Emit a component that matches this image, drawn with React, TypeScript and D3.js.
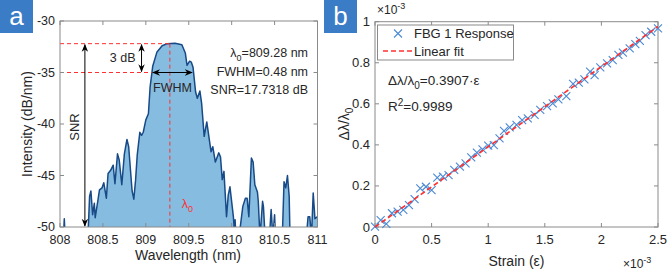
import React from 'react'
import * as d3 from 'd3'

// FBG 1 reflection spectrum: wavelength (nm) and intensity (dB/nm)
const wavelength = [
  808.0, 808.04, 808.05, 808.06, 808.1, 808.2, 808.3, 808.33, 808.345, 808.36, 808.38, 808.4,
  808.41, 808.44, 808.46, 808.49, 808.51, 808.54, 808.56, 808.59, 808.62, 808.64, 808.67, 808.69,
  808.72, 808.75, 808.78, 808.8, 808.84, 808.86, 808.88, 808.9, 808.93, 808.95, 808.97, 809.0,
  809.03, 809.05, 809.08, 809.13, 809.19, 809.25, 809.34, 809.42, 809.46, 809.48, 809.51, 809.53,
  809.55, 809.58, 809.6, 809.63, 809.65, 809.68, 809.71, 809.76, 809.78, 809.81, 809.85, 809.87,
  809.89, 809.91, 809.94, 809.96, 809.98, 810.02, 810.03, 810.04, 810.05, 810.08, 810.1, 810.13,
  810.16, 810.18, 810.2, 810.23, 810.25, 810.27, 810.3, 810.31, 810.33, 810.36, 810.37, 810.39,
  810.42, 810.44, 810.46, 810.48, 810.5, 810.51, 810.55, 810.59, 810.61, 810.63, 810.65, 810.67,
  810.68, 810.75, 810.85, 810.87, 810.89, 810.91, 810.93, 810.95, 810.97, 811.0,
]
const intensity = [
  -52, -51, -49.2, -51, -53, -54, -52, -50, -47.0, -46.5, -48.8, -47.7,
  -49.1, -47.5, -46.4, -46.2, -45.7, -47.2, -44.8, -44.5, -44.0, -45.8, -42.9, -43.5,
  -45.9, -42.9, -41.5, -42.2, -46.5, -47.3, -45.5, -43.0, -40.8, -41.1, -40.8, -39.6,
  -39.0, -36.4, -34.4, -33.0, -32.4, -32.2, -32.15, -32.3, -33.1, -34.3, -33.9, -34.0,
  -34.5, -36.9, -37.5, -36.8, -38.0, -41.2, -39.8, -42.7, -42.2, -43.7, -42.8, -43.2,
  -45.4, -44.6, -49.0, -46.9, -46.1, -49.0, -50.2, -49.3, -51, -52, -50, -48.0,
  -47.2, -47.2, -49.0, -43.3, -43.7, -45.9, -46.6, -47.5, -51, -47.5, -48.0, -51,
  -53, -51, -48.3, -51, -48.8, -51, -53, -51, -45.6, -46.2, -45.0, -47.0,
  -51, -54, -53, -51, -49.0, -49.0, -51, -46.7, -49.2, -49.0,
]

const spectrumXTicks = [808, 808.5, 809, 809.5, 810, 810.5, 811]
const spectrumYTicks = [-50, -45, -40, -35, -30]

const peakWavelength = 809.28
const fwhm = 0.48
const fwhmStart = 809.07
const snr = 17.7318
const peakLevel = -32.2
const halfLevel = -35
const snrMarkerWavelength = 808.29
const dbMarkerWavelength = 808.95

// strain response (both axes in units of 1e-3)
const strain = [
  0, 0.05, 0.1, 0.15, 0.2, 0.25, 0.3, 0.35, 0.4, 0.45, 0.5, 0.55, 0.6, 0.65, 0.7, 0.75, 0.8,
  0.85, 0.9, 0.95, 1.0, 1.05, 1.1, 1.14, 1.19, 1.25, 1.3, 1.35, 1.41, 1.46, 1.52, 1.57, 1.62,
  1.69, 1.75, 1.8, 1.85, 1.9, 1.94, 1.99, 2.05, 2.1, 2.15, 2.19, 2.25, 2.3, 2.34, 2.39, 2.44, 2.5,
]
const response = [
  0.002, 0.034, 0.015, 0.067, 0.075, 0.083, 0.107, 0.136, 0.188, 0.196, 0.18, 0.24, 0.245, 0.253,
  0.278, 0.294, 0.31, 0.339, 0.362, 0.378, 0.396, 0.399, 0.432, 0.468, 0.485, 0.497, 0.521, 0.529,
  0.546, 0.57, 0.589, 0.602, 0.622, 0.638, 0.697, 0.703, 0.719, 0.757, 0.74, 0.778, 0.797, 0.813,
  0.838, 0.849, 0.87, 0.891, 0.907, 0.935, 0.951, 0.968,
]

const strainTicks = [0, 0.5, 1, 1.5, 2, 2.5]
const responseTicks = [0, 0.2, 0.4, 0.6, 0.8, 1]

const fitSlope = 0.3907
const fitR2 = 0.9989

const font = 'Arial, "Liberation Sans", Helvetica, sans-serif'
const axisColor = '#8a8a8a'
const textColor = '#262626'
const red = '#ff3030'
const markerBlue = '#4a88d4'
const badgeBlue = '#3b7cc6'
const tickLen = 4

function Badge({ x, label }: { x: number; label: string }) {
  return (
    <g>
      <rect x={x} y={0} width={33} height={33} fill={badgeBlue} />
      <text x={x + 16.5} y={25} textAnchor="middle" fill="white" fontSize={26} fontFamily={font}>
        {label}
      </text>
    </g>
  )
}

function Frame({ x, y, xTicks, yTicks, fontSize }: any) {
  const [x0, x1] = x.range()
  const [y0, y1] = y.range()
  return (
    <g fontFamily={font} fill={textColor}>
      <rect x={x0} y={y1} width={x1 - x0} height={y0 - y1} fill="none" stroke={axisColor} />
      {xTicks.map((t: number) => (
        <g key={'x' + t}>
          <line x1={x(t)} x2={x(t)} y1={y0} y2={y0 - tickLen} stroke={axisColor} />
          <line x1={x(t)} x2={x(t)} y1={y1} y2={y1 + tickLen} stroke={axisColor} />
          <text x={x(t)} y={y0 + 17} textAnchor="middle" fontSize={fontSize}>
            {t}
          </text>
        </g>
      ))}
      {yTicks.map((t: number) => (
        <g key={'y' + t}>
          <line x1={x0} x2={x0 + tickLen} y1={y(t)} y2={y(t)} stroke={axisColor} />
          <line x1={x1} x2={x1 - tickLen} y1={y(t)} y2={y(t)} stroke={axisColor} />
          <text x={x0 - 5} y={y(t)} dy="0.35em" textAnchor="end" fontSize={fontSize}>
            {t}
          </text>
        </g>
      ))}
    </g>
  )
}

const cross = (cx: number, cy: number, m: number) =>
  `M${cx - m},${cy - m}L${cx + m},${cy + m}M${cx - m},${cy + m}L${cx + m},${cy - m}`

function SpectrumPanel() {
  const x = d3.scaleLinear().domain([808, 811]).range([60, 317.5])
  const y = d3.scaleLinear().domain([-50, -30]).range([227, 21])
  const pts = wavelength.map((w, i) => [w, intensity[i]] as [number, number])

  const area = d3
    .area<[number, number]>()
    .x((d) => x(d[0]))
    .y0(y(-50))
    .y1((d) => y(d[1]))
  const line = d3
    .line<[number, number]>()
    .x((d) => x(d[0]))
    .y((d) => y(d[1]))

  return (
    <g>
      <defs>
        <clipPath id="spectrum-clip">
          <rect x={60} y={21} width={257.5} height={206} />
        </clipPath>
      </defs>
      <g clipPath="url(#spectrum-clip)">
        <path d={area(pts) ?? ''} fill="#86bce0" />
        <path d={line(pts) ?? ''} fill="none" stroke="#174a86" strokeWidth={1.5} strokeLinejoin="round" />
      </g>

      {/* peak and -3 dB guides */}
      <g stroke={red} strokeWidth={1} strokeDasharray="4,3">
        <line x1={x(808)} x2={x(peakWavelength)} y1={y(peakLevel)} y2={y(peakLevel)} />
        <line x1={x(808)} x2={x(fwhmStart)} y1={y(halfLevel)} y2={y(halfLevel)} />
        <line x1={x(peakWavelength)} x2={x(peakWavelength)} y1={y(peakLevel)} y2={y(-50)} />
      </g>

      <Frame x={x} y={y} xTicks={spectrumXTicks} yTicks={spectrumYTicks} fontSize={12.5} />

      {/* arrows */}
      <g stroke="black" strokeWidth={1} markerStart="url(#arrow)" markerEnd="url(#arrow)">
        <line x1={x(snrMarkerWavelength)} x2={x(snrMarkerWavelength)} y1={y(peakLevel) + 1} y2={y(-50) - 1} />
        <line x1={x(dbMarkerWavelength)} x2={x(dbMarkerWavelength)} y1={y(peakLevel) + 1} y2={y(halfLevel) - 1} />
        <line x1={x(fwhmStart) + 1} x2={x(fwhmStart + fwhm) - 1} y1={y(halfLevel)} y2={y(halfLevel)} />
      </g>

      <g fontFamily={font} fill={textColor} fontSize={12.5}>
        <text x={x(dbMarkerWavelength) - 6} y={y((peakLevel + halfLevel) / 2)} dy="0.35em" textAnchor="end">
          3 dB
        </text>
        <text x={x(fwhmStart + fwhm / 2)} y={92} textAnchor="middle">
          FWHM
        </text>
        <text
          transform={`translate(${x(snrMarkerWavelength) - 6},127) rotate(-90)`}
          textAnchor="middle"
          fontSize={13}
        >
          SNR
        </text>
        <text x={308} y={57} textAnchor="end">
          λ<tspan dy={4} fontSize={9}>0</tspan>
          <tspan dy={-4}>={peakWavelength} nm</tspan>
        </text>
        <text x={308} y={76} textAnchor="end">
          FWHM={fwhm} nm
        </text>
        <text x={308} y={94} textAnchor="end">
          SNR={snr} dB
        </text>
        <text x={x(peakWavelength) + 12} y={208} fill={red}>
          λ<tspan dy={4} fontSize={9}>0</tspan>
        </text>
        <text x={188} y={260} textAnchor="middle" fontSize={14}>
          Wavelength (nm)
        </text>
        <text transform="translate(32,124) rotate(-90)" textAnchor="middle" fontSize={14}>
          Intensity (dB/nm)
        </text>
      </g>
    </g>
  )
}

function StrainPanel() {
  const x = d3.scaleLinear().domain([0, 2.5]).range([375, 658])
  const y = d3.scaleLinear().domain([0, 1]).range([227, 21.7])
  const fit = d3
    .line<number>()
    .x((d) => x(d))
    .y((d) => y(fitSlope * d))
  const m = 4

  return (
    <g>
      <Frame x={x} y={y} xTicks={strainTicks} yTicks={responseTicks} fontSize={13} />
      <g stroke={markerBlue} strokeWidth={1.1} fill="none">
        {strain.map((s, i) => (
          <path key={i} d={cross(x(s), y(response[i]), m)} />
        ))}
      </g>
      <path
        d={fit([0, 2.5]) ?? ''}
        fill="none"
        stroke={red}
        strokeWidth={1.6}
        strokeDasharray="5,3"
      />

      {/* legend */}
      <g fontFamily={font} fill={textColor} fontSize={13}>
        <rect x={377.5} y={25} width={136} height={35} fill="white" stroke={axisColor} />
        <path d={cross(398, 33.5, m)} stroke={markerBlue} strokeWidth={1.1} />
        <text x={414} y={33.5} dy="0.35em">
          FBG 1 Response
        </text>
        <line x1={383} x2={412} y1={51} y2={51} stroke={red} strokeWidth={1.6} strokeDasharray="5,3" />
        <text x={414} y={51} dy="0.35em">
          Linear fit
        </text>

        <text x={388} y={85} fontSize={13.5}>
          Δλ/λ<tspan dy={4} fontSize={10}>0</tspan>
          <tspan dy={-4}>={fitSlope}·ε</tspan>
        </text>
        <text x={388} y={111} fontSize={13.5}>
          R<tspan dy={-5} fontSize={10}>2</tspan>
          <tspan dy={5}>={fitR2}</tspan>
        </text>

        <text x={377} y={14} fontSize={12}>
          ×10<tspan dy={-5} fontSize={9}>-3</tspan>
        </text>
        <text x={623} y={268} fontSize={12}>
          ×10<tspan dy={-5} fontSize={9}>-3</tspan>
        </text>
        <text x={516.5} y={266} textAnchor="middle" fontSize={14}>
          Strain (ε)
        </text>
        <text transform="translate(349,124) rotate(-90)" textAnchor="middle" fontSize={14}>
          Δλ/λ<tspan dy={4} fontSize={10}>0</tspan>
        </text>
      </g>
    </g>
  )
}

export default function App() {
  return (
    <svg
      width={669}
      height={271}
      style={{ position: 'absolute', left: 0, top: 0, background: 'white' }}
    >
      <defs>
        <marker
          id="arrow"
          viewBox="0 0 10 10"
          refX={9}
          refY={5}
          markerWidth={8}
          markerHeight={8}
          markerUnits="userSpaceOnUse"
          orient="auto-start-reverse"
        >
          <path d="M0,1 L10,5 L0,9 L3,5 Z" fill="black" />
        </marker>
      </defs>
      <Badge x={0} label="a" />
      <Badge x={324} label="b" />
      <SpectrumPanel />
      <StrainPanel />
    </svg>
  )
}
